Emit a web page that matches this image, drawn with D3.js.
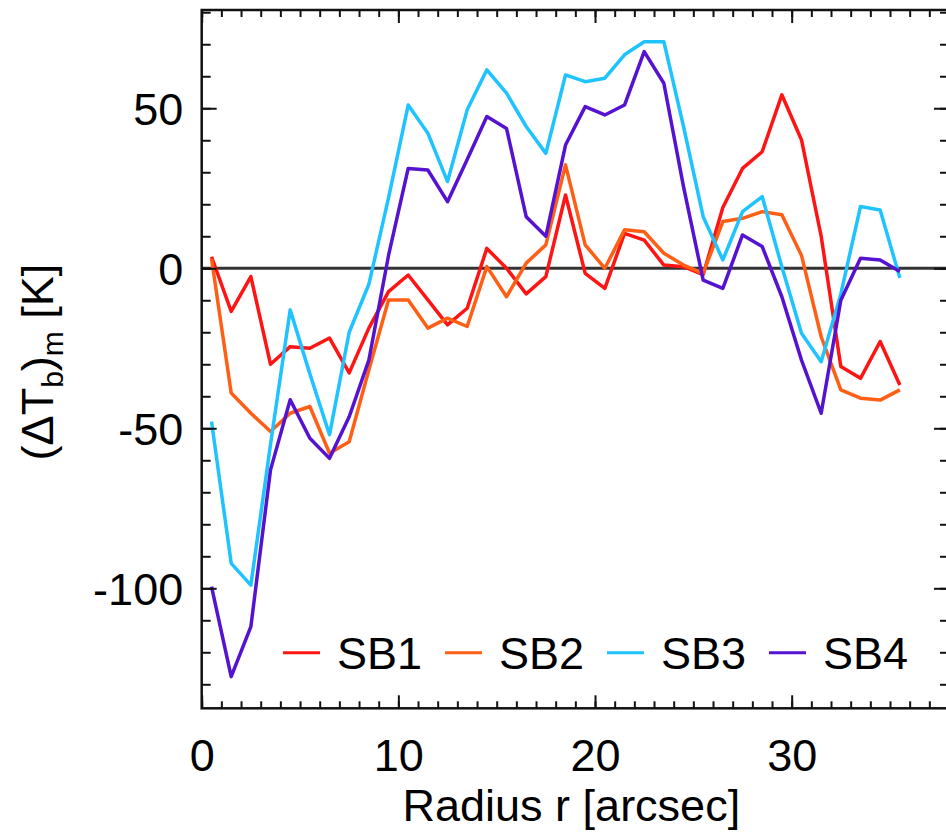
<!DOCTYPE html>
<html>
<head>
<meta charset="utf-8">
<script src="https://cdn.jsdelivr.net/npm/d3@7"></script>
<style>
  body { margin: 0; background: #fff; }
  svg { display: block; font-family: "Liberation Sans", Arial, Helvetica, sans-serif; }
</style>
</head>
<body>
<div id="chart"></div>
<script>
// radius bins [arcsec]
var radius = [0.5, 1.5, 2.5, 3.5, 4.5, 5.5, 6.5, 7.5, 8.5, 9.5, 10.5, 11.5, 12.5, 13.5, 14.5, 15.5, 16.5, 17.5,
              18.5, 19.5, 20.5, 21.5, 22.5, 23.5, 24.5, 25.5, 26.5, 27.5, 28.5, 29.5, 30.5, 31.5, 32.5, 33.5, 34.5, 35.5];

var sb1 = [3.6, -13.5, -2.6, -30, -24.5, -25, -21.8, -32.7, -18.7, -7.3, -2.1, -9.9, -17.7, -12.5, 6.2, 0, -8, -2.6,
           22.9, -1.6, -6.3, 10.9, 8.8, 1.0, 0.5, -2, 19, 31.2, 36.4, 54.2, 40.1, 10, -30.7, -34.4, -22.9, -36.5];
var sb2 = [3, -39, -45.3, -51, -45.3, -43.2, -57.8, -54.2, -31.8, -9.9, -9.9, -18.7, -15.6, -18.2, 0.5, -8.9, 1.6, 7.3,
           32.3, 7.3, 0, 12, 11.4, 4.7, 1, -1.6, 14.6, 15.6, 17.7, 16.7, 4, -21.4, -38, -40.6, -41.2, -38];
var sb3 = [-47.9, -92.2, -99, -55, -13, -33, -52, -20, -5, 22, 51, 42.2, 27.1, 49.5, 62, 54.7, 44.3, 35.9,
           60.4, 58.3, 59.4, 66.7, 70.8, 70.8, 44.3, 16.1, 2.6, 17.7, 22.4, 0.5, -20.3, -29.2, -8, 19.3, 18.2, -3];
var sb4 = [-99.5, -127.6, -112, -63, -41.1, -53.1, -59.4, -46.4, -28.7, 4, 31.2, 30.7, 20.8, 34, 47.4, 43.7, 16.1, 10,
           38.5, 50.5, 47.9, 51, 67.7, 57.8, 25.5, -3.7, -6.3, 10.4, 6.8, -8.9, -28.7, -45.3, -10, 3.1, 2.6, -1];

var names = ["SB1", "SB2", "SB3", "SB4"];
var colors = ["#ff1414", "#ff5f14", "#1ec3ff", "#5512d0"];

var xMajor = [0, 10, 20, 30];
var yMajor = [-100, -50, 0, 50];

var W = 946, H = 833;
var pLeft = 201.7, pRight = 949, pTop = 10, pBottom = 708.3;

var svg = d3.select("#chart")
    .append("svg")
    .attr("width", W)
    .attr("height", H);

var x = d3.scaleLinear().domain([0, 38]).range([pLeft, pRight]);
var y = d3.scaleLinear().domain([-137.5, 80.7]).range([pBottom, pTop]);

var fontSize = 45;
// plain hyphen for negatives, like the original plot
var plain = function (d) { return String(d); };

// zero line
svg.append("line")
    .attr("x1", pLeft).attr("x2", pRight)
    .attr("y1", y(0)).attr("y2", y(0))
    .attr("stroke", "#333")
    .attr("stroke-width", 3);

// series
var line = d3.line()
    .x(function (d, i) { return x(radius[i]); })
    .y(function (d) { return y(d); });

[sb1, sb2, sb3, sb4].forEach(function (s, k) {
    svg.append("path")
        .datum(s)
        .attr("fill", "none")
        .attr("stroke", colors[k])
        .attr("stroke-width", 3.5)
        .attr("stroke-linejoin", "round")
        .attr("d", line);
});

// axes: minor + major ticks on all four sides, pointing inward
var xMinor = d3.range(0, 39);
var yMinor = d3.range(-130, 81, 10);

function styleAxis(g) {
    g.select(".domain").remove();
    g.selectAll(".tick line").attr("stroke", "#111").attr("stroke-width", 2);
}

svg.append("g").attr("transform", "translate(0," + pBottom + ")")
    .call(d3.axisBottom(x).tickValues(xMinor).tickSize(-7).tickFormat(""))
    .call(styleAxis);
svg.append("g").attr("transform", "translate(0," + pBottom + ")")
    .call(d3.axisBottom(x).tickValues(xMajor).tickSize(-13).tickPadding(31).tickFormat(plain))
    .call(styleAxis)
    .selectAll("text")
    .attr("fill", "#000")
    .style("font-size", fontSize + "px");

svg.append("g").attr("transform", "translate(0," + pTop + ")")
    .call(d3.axisTop(x).tickValues(xMinor).tickSize(-7).tickFormat(""))
    .call(styleAxis);
svg.append("g").attr("transform", "translate(0," + pTop + ")")
    .call(d3.axisTop(x).tickValues(xMajor).tickSize(-13).tickFormat(""))
    .call(styleAxis);

svg.append("g").attr("transform", "translate(" + pLeft + ",0)")
    .call(d3.axisLeft(y).tickValues(yMinor).tickSize(-9).tickFormat(""))
    .call(styleAxis);
svg.append("g").attr("transform", "translate(" + pLeft + ",0)")
    .call(d3.axisLeft(y).tickValues(yMajor).tickSize(-15).tickPadding(18.5).tickFormat(plain))
    .call(styleAxis)
    .selectAll("text")
    .attr("fill", "#000")
    .attr("dy", "0.36em")
    .style("font-size", fontSize + "px");

svg.append("g").attr("transform", "translate(" + pRight + ",0)")
    .call(d3.axisRight(y).tickValues(yMinor).tickSize(-9).tickFormat(""))
    .call(styleAxis);
svg.append("g").attr("transform", "translate(" + pRight + ",0)")
    .call(d3.axisRight(y).tickValues(yMajor).tickSize(-15).tickFormat(""))
    .call(styleAxis);

// frame
svg.append("rect")
    .attr("x", pLeft).attr("y", pTop)
    .attr("width", pRight - pLeft).attr("height", pBottom - pTop)
    .attr("fill", "none")
    .attr("stroke", "#111")
    .attr("stroke-width", 2.5);

// axis titles
svg.append("text")
    .attr("x", (pLeft + pRight) / 2 - 4)
    .attr("y", 821)
    .attr("text-anchor", "middle")
    .style("font-size", fontSize + "px")
    .text("Radius r [arcsec]");

var ylab = svg.append("text")
    .attr("transform", "translate(53,362) rotate(-90)")
    .attr("text-anchor", "middle")
    .style("font-size", fontSize + "px");
ylab.append("tspan").text("(\u0394T");
ylab.append("tspan").attr("dy", 10).style("font-size", "30px").text("b");
ylab.append("tspan").attr("dy", -10).text(")");
ylab.append("tspan").attr("dy", 10).style("font-size", "30px").text("m");
ylab.append("tspan").attr("dy", -10).text(" [K]");

// legend
var legendY = 652.7, legendX = 283, step = 162;
var legend = svg.selectAll(".legend")
    .data(names)
    .enter()
    .append("g")
    .attr("transform", function (d, i) { return "translate(" + (legendX + i * step) + "," + legendY + ")"; });

legend.append("line")
    .attr("x1", 0).attr("x2", 37)
    .attr("stroke", function (d, i) { return colors[i]; })
    .attr("stroke-width", 3);

legend.append("text")
    .attr("x", 54)
    .attr("dy", "0.36em")
    .style("font-size", fontSize + "px")
    .text(function (d) { return d; });
</script>
</body>
</html>
